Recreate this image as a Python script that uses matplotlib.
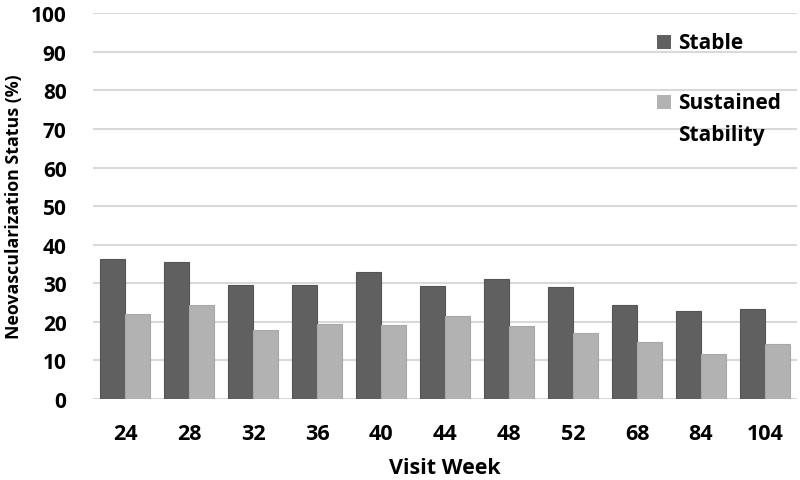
import matplotlib
matplotlib.use("Agg")
import matplotlib.pyplot as plt
from matplotlib.patches import Rectangle
import numpy as np

plt.rcParams['font.family'] = ['Open Sans', 'DejaVu Sans']
plt.rcParams['font.weight'] = 'bold'

weeks = ["24", "28", "32", "36", "40", "44", "48", "52", "68", "84", "104"]
stable = [36.4, 35.4, 29.6, 29.5, 33.0, 29.4, 31.0, 29.1, 24.5, 22.8, 23.3]
sustained = [22.1, 24.4, 17.9, 19.4, 19.3, 21.6, 19.0, 17.1, 14.8, 11.7, 14.2]
series_names = ["Stable", "Sustained\nStability"]
series_colors = ["#606060", "#b2b2b2"]
edge_colors = ["#555555", "#a8a8a8"]

W, H = 800, 481
fig = plt.figure(figsize=(8, 4.81), dpi=100)
ax = fig.add_axes([93 / W, 1 - 400 / H, 704 / W, (400 - 14.3) / H])

x = np.arange(len(weeks))
bw = 0.39
for i, vals in enumerate([stable, sustained]):
    ax.bar(x + (i - 0.5) * bw, vals, width=bw, color=series_colors[i],
           edgecolor=edge_colors[i], linewidth=0.8, zorder=2)

ax.set_xlim(-0.5, len(weeks) - 0.5)
ax.set_ylim(0, 100)
ax.set_yticks(range(0, 101, 10))
ax.set_xticks(x)
ax.set_xticklabels(weeks)
ax.yaxis.grid(True, color="#d9d9d9", linewidth=1.5, zorder=0)
ax.set_axisbelow(True)
for s in ax.spines.values():
    s.set_visible(False)
ax.tick_params(axis='both', length=0, colors='black')
ax.tick_params(axis='x', pad=17, labelsize=15.5)
ax.tick_params(axis='y', pad=19, labelsize=15)

ax.set_xlabel("Visit Week", fontsize=15.5, fontweight='bold', labelpad=10)
ax.set_ylabel("Neovascularization Status (%)", fontsize=12.8, fontweight='bold', labelpad=6)

# legend drawn at the upper right, square aligned to first text line
leg_y = [43, 103]
for i, name in enumerate(series_names):
    fig.patches.append(Rectangle((657 / W, 1 - (leg_y[i] + 7) / H), 14 / W, 14 / H,
                                 transform=fig.transFigure, facecolor=series_colors[i],
                                 edgecolor='none'))
    fig.text(678 / W, 1 - (leg_y[i] - 10) / H, name, fontsize=15, fontweight='bold',
             va='top', ha='left', linespacing=1.7)

fig.savefig("out.png", dpi=100)
